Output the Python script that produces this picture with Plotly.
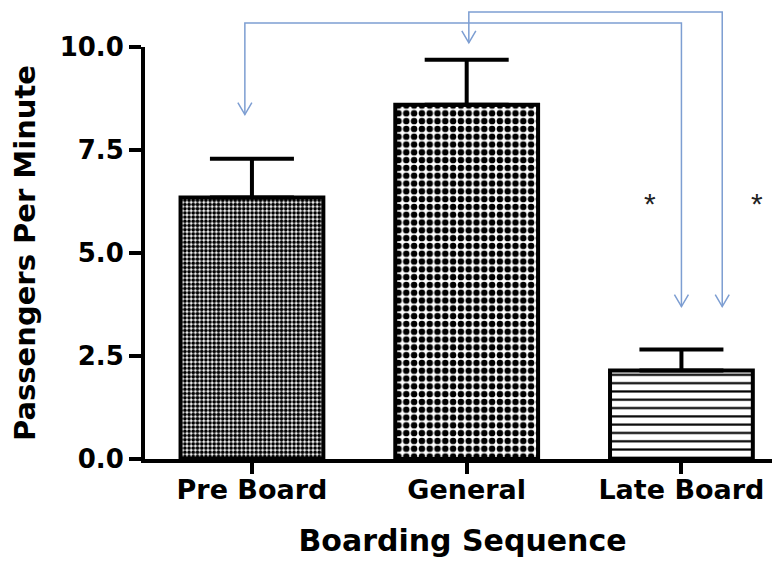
import plotly.graph_objects as go

# ---- data ----
categories = ["Pre Board", "General", "Late Board"]
cat_pos = [0, 1, 2]
means = [6.35, 8.6, 2.15]
sem_upper = [0.94, 1.09, 0.51]
y_ticks = [0.0, 2.5, 5.0, 7.5, 10.0]
y_tick_labels = ["0.0", "2.5", "5.0", "7.5", "10.0"]

# significance brackets (Pre Board <-> Late Board, General <-> Late Board)
bracket_x = [[-0.033, 2.0], [1.01, 2.19]]
bracket_top = [10.58, 10.85]
bracket_tips = [[8.36, 3.70], [10.1, 3.70]]
star_x = [1.853, 2.35]
star_y = [6.2, 6.2]
star_text = ["*", "*"]

# ---- styles ----
y_range = [0, 10]
x_range = [-0.498, 2.459]
blue = "#7d9ed2"
font_family = "DejaVu Sans"

fig = go.Figure()
fig.add_trace(go.Bar(
    x=cat_pos,
    y=means,
    width=0.665,
    marker=dict(
        color="white",
        line=dict(color="black", width=4),
        pattern=dict(
            shape=[".", ".", "-"],
            size=[4.2, 7.8, 8.3],
            solidity=[0.62, 0.55, 0.26],
            fgcolor="black",
            bgcolor="white",
            fillmode="replace",
        ),
    ),
    error_y=dict(
        type="data",
        symmetric=False,
        array=sem_upper,
        arrayminus=[0, 0, 0],
        color="black",
        thickness=4,
        width=42,
    ),
    showlegend=False,
    hoverinfo="skip",
))

ymax = y_range[1]
shapes = []
for (xa, xb), top, (ta, tb) in zip(bracket_x, bracket_top, bracket_tips):
    shapes.append(dict(
        type="path", xref="x", yref="paper",
        path=f"M{xa},{ta / ymax} V{top / ymax} H{xb} V{tb / ymax}",
        line=dict(color=blue, width=1.5),
    ))
    for xx, tt in ((xa, ta), (xb, tb)):
        shapes.append(dict(
            type="path", xref="x", yref="paper",
            xsizemode="pixel", ysizemode="pixel",
            xanchor=xx, yanchor=tt / ymax,
            path="M-7,12 L0,0 L7,12",
            line=dict(color=blue, width=1.5),
        ))

annotations = []
for sx, sy, st in zip(star_x, star_y, star_text):
    annotations.append(dict(
        x=sx, y=sy, xref="x", yref="y", text=st, showarrow=False,
        font=dict(family="Liberation Sans", size=30, color="#222222"),
    ))

axis_font = dict(family=font_family, size=27, color="black", weight="bold")
fig.update_layout(
    width=772, height=553,
    margin=dict(l=137, r=0, t=39, b=102),
    paper_bgcolor="white", plot_bgcolor="white",
    shapes=shapes, annotations=annotations,
    xaxis=dict(
        range=x_range, tickvals=cat_pos, ticktext=categories,
        showline=True, linewidth=4, linecolor="black",
        ticks="outside", ticklen=11, tickwidth=4, tickcolor="black",
        ticklabelstandoff=-7,
        tickfont=axis_font, showgrid=False, zeroline=False,
        title=dict(text="Boarding Sequence", standoff=27,
                   font=dict(family=font_family, size=30, color="black", weight="bold")),
    ),
    yaxis=dict(
        range=y_range, tickvals=y_ticks, ticktext=y_tick_labels,
        showline=True, linewidth=4, linecolor="black",
        ticks="outside", ticklen=12, tickwidth=4, tickcolor="black",
        tickfont=dict(family=font_family, size=26, color="black", weight="bold"),
        showgrid=False, zeroline=False,
        title=dict(text="Passengers Per Minute", standoff=22,
                   font=dict(family=font_family, size=29, color="black", weight="bold")),
    ),
)

fig.write_html("out.html")
